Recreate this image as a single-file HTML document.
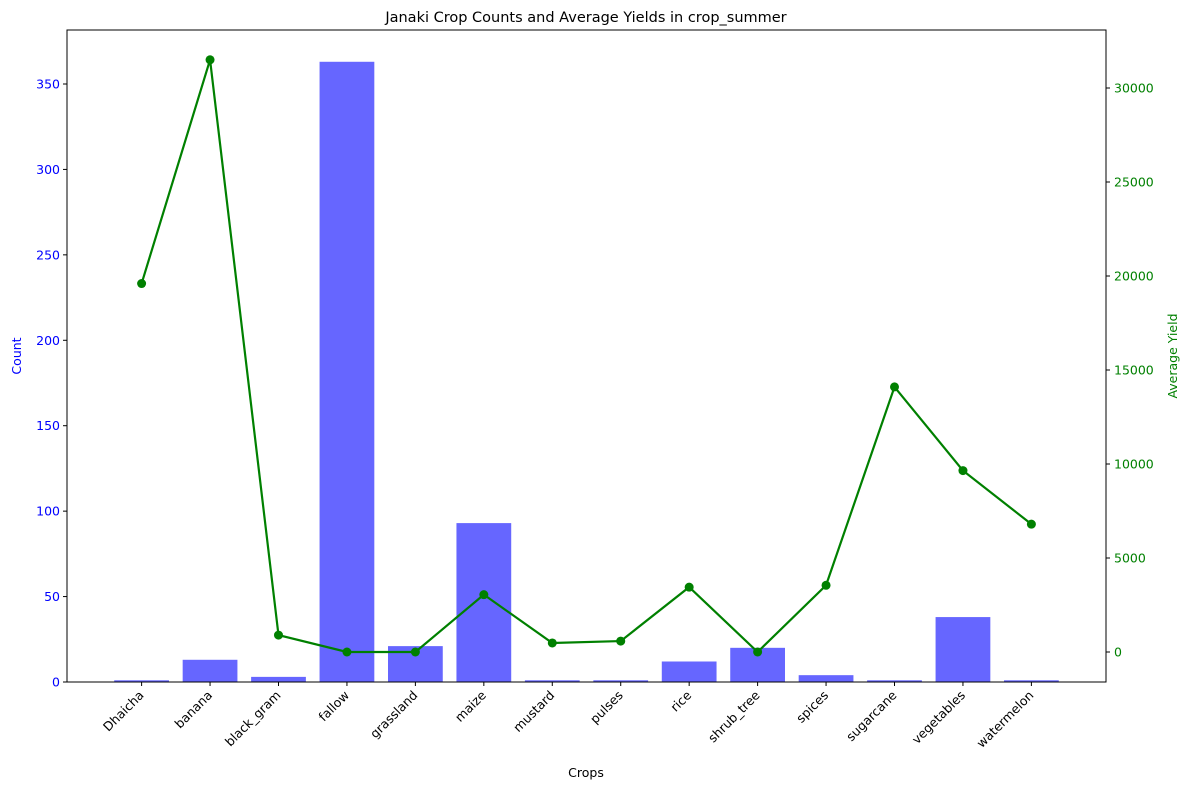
<!DOCTYPE html>
<html><head><meta charset="utf-8"><style>body{margin:0;background:#fff}svg text{font-family:"DejaVu Sans","Liberation Sans",sans-serif}</style></head>
<body>
<svg id="chart" width="1189" height="790"></svg>
<script>
const categories=["Dhaicha","banana","black_gram","fallow","grassland","maize","mustard","pulses","rice","shrub_tree","spices","sugarcane","vegetables","watermelon"];
const counts=[1,13,3,363,21,93,1,1,12,20,4,1,38,1];
const yields=[19600,31500,900,0,0,3050,480,580,3450,0,3550,14100,9650,6800];
const countTicks=[0,50,100,150,200,250,300,350];
const yieldTicks=[0,5000,10000,15000,20000,25000,30000];
const svg=document.getElementById('chart');const NS='http://www.w3.org/2000/svg';
const L=67,R=1106,T=30,B=682;
const step=(R-L)/(categories.length-1+0.8+0.138*2+ (13.8*0.1-0.276));
const xs=i=>L+(i+1.09)*((R-L)/15.18);
const bw=0.8*((R-L)/15.18);
const yL=v=>B-(v/381.6)*(B-T);
const yR=v=>B-((v+1596)/(33085+1596))*(B-T);
function el(t,a,txt){const e=document.createElementNS(NS,t);for(const k in a)e.setAttribute(k,a[k]);if(txt!=null)e.textContent=txt;svg.appendChild(e);return e;}
categories.forEach((c,i)=>{const e=el('rect',{x:xs(i)-bw/2,y:yL(counts[i]),width:bw,height:B-yL(counts[i]),fill:'#6666ff'});

});
let pts=categories.map((c,i)=>xs(i)+','+yR(yields[i])).join(' ');
const pl=el('polyline',{points:pts,fill:'none',stroke:'#008000','stroke-width':2.2});


categories.forEach((c,i)=>{const e=el('circle',{cx:xs(i),cy:yR(yields[i]),r:4.5,fill:'#008000'});

});
const fr=el('rect',{x:L,y:T,width:R-L,height:B-T,fill:'none',stroke:'#000','stroke-width':1});


countTicks.forEach(v=>{const y=yL(v);el('line',{x1:L-4,x2:L,y1:y,y2:y,stroke:'#000'});
const t=el('text',{x:L-7,y:y+4.5,'text-anchor':'end','font-size':12.5,fill:'blue'},v);

});
yieldTicks.forEach(v=>{const y=yR(v);el('line',{x1:R,x2:R+4,y1:y,y2:y,stroke:'#000'});
const t=el('text',{x:R+8,y:y+4.5,'font-size':12.5,fill:'green'},v);

});
categories.forEach((c,i)=>{const x=xs(i);el('line',{x1:x,x2:x,y1:B,y2:B+4,stroke:'#000'});
const t=el('text',{x:x+3,y:B+14,'text-anchor':'end','font-size':12.5,transform:`rotate(-45 ${x+3} ${B+14})`},c);

});
let t=el('text',{x:586,y:22,'text-anchor':'middle','font-size':14.5},'Janaki Crop Counts and Average Yields in crop_summer');

t=el('text',{x:586,y:777,'text-anchor':'middle','font-size':12.5},'Crops');

t=el('text',{x:21,y:356,'text-anchor':'middle','font-size':12.5,fill:'blue',transform:'rotate(-90 21 356)'},'Count');

t=el('text',{x:1177,y:356,'text-anchor':'middle','font-size':12.5,fill:'green',transform:'rotate(-90 1177 356)'},'Average Yield');

</script>
</body></html>
